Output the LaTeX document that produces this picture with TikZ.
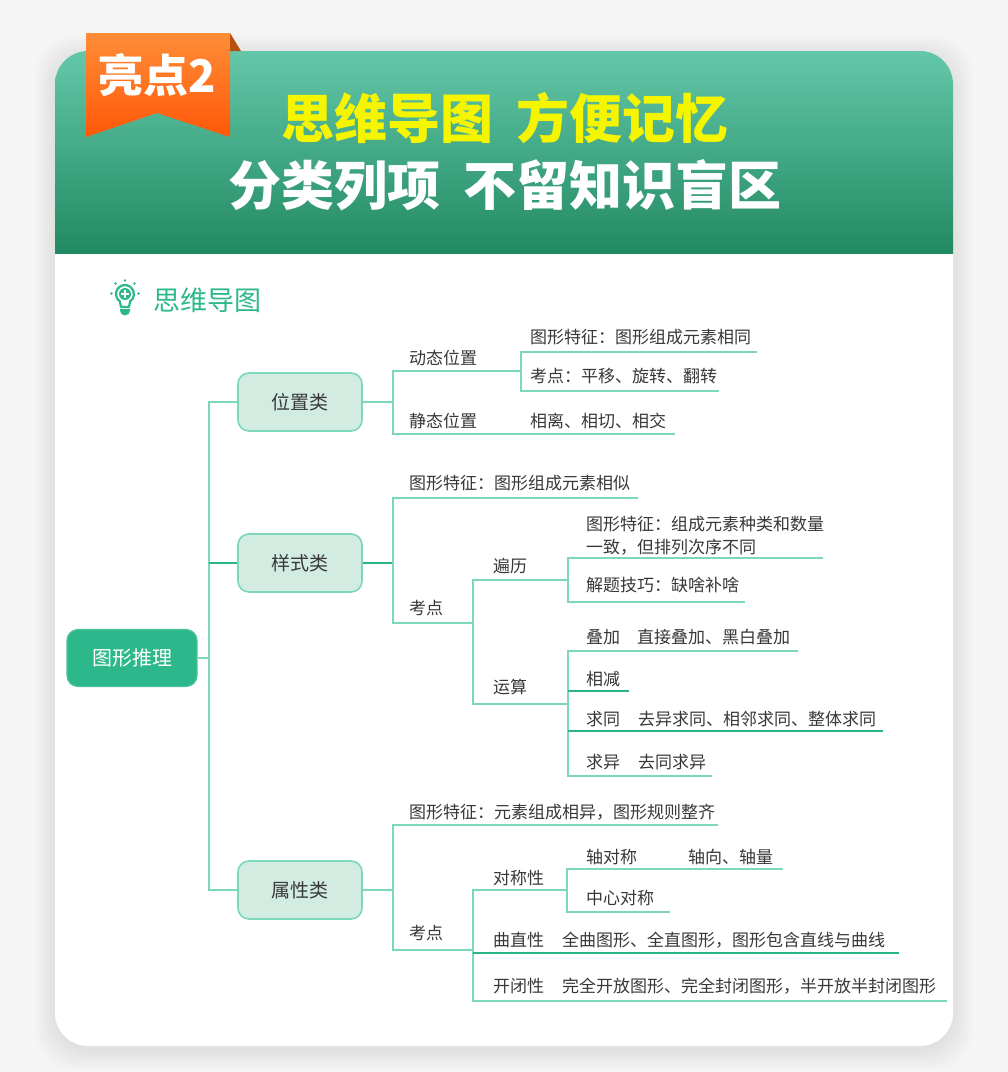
\documentclass[tikz,border=0pt]{standalone}
\usepackage{fontspec}
\setmainfont{Noto Sans CJK SC}
\usetikzlibrary{calc}
\definecolor{bgc}{HTML}{F4F5F4}
\definecolor{hdtop}{HTML}{64C7A9}
\definecolor{hdbot}{HTML}{228A62}
\definecolor{rbt}{HTML}{FF8D38}
\definecolor{rbb}{HTML}{FF5808}
\definecolor{fold}{HTML}{B8500F}
\definecolor{ylw}{HTML}{F6F500}
\definecolor{grn}{HTML}{2DB88C}
\definecolor{lln}{HTML}{7DD7BD}
\definecolor{dln}{HTML}{2AB48A}
\definecolor{boxf}{HTML}{D3ECE2}
\definecolor{txt}{HTML}{383838}
\tikzset{
  t/.style={anchor=west, inner sep=0pt, text=txt, font=\fontsize{17}{23}\selectfont},
  ln/.style={draw=lln, line width=2pt},
  dk/.style={draw=dln, line width=2pt},
  catbox/.style={draw=lln, line width=1.6pt, fill=boxf, rounded corners=11pt, minimum width=124pt, minimum height=58pt, text=txt, font=\fontsize{19}{19}\selectfont, inner sep=0pt},
  rootbox/.style={draw=grn!85!white, line width=1.2pt, fill=grn, rounded corners=11pt, minimum width=130pt, minimum height=57pt, text=white, font=\fontsize{20}{20}\selectfont, inner sep=0pt}
}
\begin{document}
\begin{tikzpicture}[x=1pt,y=-1pt]
\useasboundingbox (0,0) rectangle (1008,1072);
\fill[bgc] (0,0) rectangle (1008,1072);
% soft shadow
\foreach \d in {2,4,...,20}{
  \fill[black,opacity=0.006,rounded corners=40pt] (55-\d,51-\d+4) rectangle (953+\d,1046+\d+4);
}
% card
\fill[white,rounded corners=33pt] (55,51) rectangle (953,1046);
\begin{scope}
  \clip[rounded corners=33pt] (55,51) rectangle (953,1046);
  \shade[top color=hdtop,bottom color=hdbot] (55,51) rectangle (953,253);
\end{scope}
% ribbon
\shade[top color=rbt,bottom color=rbb] (86,33) -- (230,33) -- (230,137) -- (157,113) -- (86,137) -- cycle;
\fill[fold] (230,33) -- (241,51) -- (230,51) -- cycle;
\node[text=white,font=\bfseries\fontsize{45}{45}\selectfont,inner sep=0pt] (rb) at (157,75) {亮点2};
% header texts
\node[text=ylw,font=\bfseries\fontsize{53}{53}\selectfont,inner sep=0pt] (h1) at (505,118) {思维导图\hspace{0.42em}方便记忆};
\node[text=white,font=\bfseries\fontsize{53}{53}\selectfont,inner sep=0pt] (h2) at (505,185) {分类列项\hspace{0.42em}不留知识盲区};
% bulb icon
\draw[grn,line width=2.2pt,line join=round] (119.84,301.37) arc[start angle=125,end angle=415,radius=9] -- (129,307) -- (121,307) -- cycle;
\fill[grn] (125,294) circle (6);
\draw[white,line width=1.8pt] (125,290.2) -- (125,297.8) (121.2,294) -- (128.8,294);
\fill[grn] (120,309) -- (130,309) -- (130,310.5) arc[start angle=0,end angle=180,radius=5] -- cycle;
\foreach \p in {(125,280.5),(115.5,283.5),(134.5,283.5),(111.5,293.5),(138.5,293.5)}{
  \fill[grn] \p circle (1.4);
}
\node[anchor=west,text=grn,font=\fontsize{27}{27}\selectfont,inner sep=0pt] (title) at (153,300) {思维导图};
% ---- mind map nodes
\node[rootbox] (root) at (132,658) {图形推理};
\node[catbox] (wz) at (300,402) {位置类};
\node[catbox] (ys) at (300,563) {样式类};
\node[catbox] (sx) at (300,890) {属性类};
% level 1 connectors
\coordinate (v0) at (209,658);
\draw[ln] (root.east) -- (v0);
\draw[ln] (wz.west) -| (v0);
\draw[ln] (sx.west) -| (v0);
\draw[dk] (ys.west) -- (ys.west -| v0);
% ---- 位置类
\node[t] (dt) at (409,358) {动态位置};
\node[t] (dt1) at (530,337) {图形特征：图形组成元素相同};
\node[t] (dt2) at (530,376) {考点：平移、旋转、翻转};
\node[t] (jt) at (409,421) {静态位置};
\node[t] (jt1) at (530,421) {相离、相切、相交};
\coordinate (a0) at (393,402);
\coordinate (a1) at (393,371);
\coordinate (a2) at (393,434);
\coordinate (a1e) at (521,371);
\coordinate (a2e) at (675,434);
\coordinate (b1) at (521,352);
\coordinate (b2) at (521,391);
\coordinate (b1e) at (757,352);
\coordinate (b2e) at (719,391);
\draw[ln] (wz.east) -- (a0);
\draw[ln] (a1e) -- (a1) -- (a2) -- (a2e);
\draw[ln] (b1e) -- (b1) -- (b2) -- (b2e);
% ---- 样式类
\node[t] (ys1) at (409,483) {图形特征：图形组成元素相似};
\node[t] (kd1) at (409,608) {考点};
\node[t] (bl) at (493,566) {遍历};
\node[t,align=left] (bl1) at (586,535.5) {图形特征：组成元素种类和数量\\一致，但排列次序不同};
\node[t] (bl2) at (586,585) {解题技巧：缺啥补啥};
\node[t] (ys2) at (493,687) {运算};
\node[t] (dj) at (586,637) {叠加};
\node[t] (dj1) at (637,637) {直接叠加、黑白叠加};
\node[t] (xj) at (586,679) {相减};
\node[t] (qt) at (586,719) {求同};
\node[t] (qt1) at (638,719) {去异求同、相邻求同、整体求同};
\node[t] (qy) at (586,762) {求异};
\node[t] (qy1) at (638,762) {去同求异};
\coordinate (c0) at (393,563);
\coordinate (c1) at (393,498);
\coordinate (c1e) at (638,498);
\coordinate (c2) at (393,623);
\coordinate (c2e) at (473,623);
\draw[dk] (ys.east) -- (c0);
\draw[ln] (c1e) -- (c1) -- (c2) -- (c2e);
\coordinate (d1) at (473,580);
\coordinate (d1e) at (568,580);
\coordinate (d2) at (473,704);
\coordinate (d2e) at (568,704);
\draw[ln] (d1e) -- (d1) -- (d2) -- (d2e);
\coordinate (e1) at (568,558);
\coordinate (e1e) at (823,558);
\coordinate (e2) at (568,602);
\coordinate (e2e) at (745,602);
\draw[ln] (e1e) -- (e1) -- (e2) -- (e2e);
\coordinate (f1) at (568,651);
\coordinate (f1e) at (798,651);
\coordinate (f2) at (568,691);
\coordinate (f2e) at (629,691);
\coordinate (f3) at (568,731);
\coordinate (f3e) at (883,731);
\coordinate (f4) at (568,776);
\coordinate (f4e) at (712,776);
\draw[ln] (f1e) -- (f1) -- (f4) -- (f4e);
\draw[dk] (f2) -- (f2e);
\draw[dk] (f3) -- (f3e);
% ---- 属性类
\node[t] (sx1) at (409,812) {图形特征：元素组成相异，图形规则整齐};
\node[t] (kd2) at (409,933) {考点};
\node[t] (dc) at (493,878) {对称性};
\node[t] (dc1) at (586,857) {轴对称};
\node[t] (dc1a) at (688,857) {轴向、轴量};
\node[t] (dc2) at (586,898) {中心对称};
\node[t] (qz) at (493,940) {曲直性};
\node[t] (qz1) at (562,940) {全曲图形、全直图形，图形包含直线与曲线};
\node[t] (kb) at (493,986) {开闭性};
\node[t] (kb1) at (562,986) {完全开放图形、完全封闭图形，半开放半封闭图形};
\coordinate (g0) at (393,890);
\coordinate (g1) at (393,825);
\coordinate (g1e) at (718,825);
\coordinate (g2) at (393,950);
\coordinate (g2e) at (473,950);
\draw[ln] (sx.east) -- (g0);
\draw[ln] (g1e) -- (g1) -- (g2) -- (g2e);
\coordinate (h1a) at (473,890);
\coordinate (h1e) at (567,890);
\coordinate (h2) at (473,953);
\coordinate (h2e) at (899,953);
\coordinate (h3) at (473,1001);
\coordinate (h3e) at (947,1001);
\draw[ln] (h1e) -- (h1a) -- (h3) -- (h3e);
\draw[dk] (h2) -- (h2e);
\coordinate (i1) at (567,869);
\coordinate (i1e) at (783,869);
\coordinate (i2) at (567,912);
\coordinate (i2e) at (670,912);
\draw[ln] (i1e) -- (i1) -- (i2) -- (i2e);
\end{tikzpicture}
\end{document}
